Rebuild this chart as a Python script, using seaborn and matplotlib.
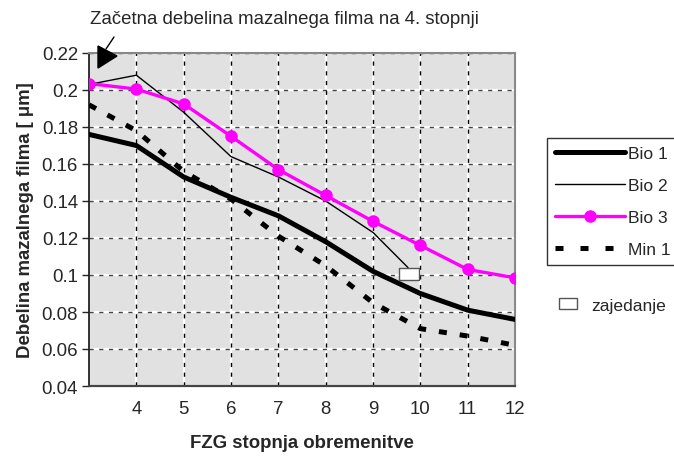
import matplotlib
matplotlib.use("Agg")
import matplotlib.pyplot as plt
import seaborn as sns
import numpy as np
import pandas as pd
from matplotlib.path import Path
from matplotlib.patches import Polygon, Rectangle
from matplotlib.lines import Line2D

# ---- data ----
stages = [3, 4, 5, 6, 7, 8, 9, 10, 11, 12]
bio1 = [0.176, 0.170, 0.153, 0.142, 0.132, 0.118, 0.102, 0.090, 0.081, 0.076]
bio2_x = [3, 4, 5, 6, 7, 8, 9, 9.74]
bio2 = [0.203, 0.208, 0.188, 0.164, 0.153, 0.140, 0.123, 0.104]
bio3 = [0.2035, 0.2005, 0.1925, 0.175, 0.157, 0.143, 0.129, 0.116, 0.103, 0.0985]
min1 = [0.192, 0.178, 0.156, 0.141, 0.121, 0.105, 0.085, 0.071, 0.067, 0.062]
zaj_x = [9.77]
zaj_y = [0.1008]
x_ticks = [4, 5, 6, 7, 8, 9, 10, 11, 12]
y_ticks = [0.04, 0.06, 0.08, 0.1, 0.12, 0.14, 0.16, 0.18, 0.2, 0.22]
y_labels = ["0.04", "0.06", "0.08", "0.1", "0.12", "0.14", "0.16", "0.18", "0.2", "0.22"]

sns.set_style("white")
plt.rcParams['font.family'] = ['Liberation Sans', 'DejaVu Sans']
FS = 13.4
LFS = 12.6

fig = plt.figure(figsize=(6.74, 4.60), dpi=100)
W, H = 674, 460
ax = fig.add_axes([89 / W, 1 - 387 / H, (515 - 89) / W, (387 - 54) / H])
ax.set_facecolor("#e1e1e1")

ax.set_xlim(3, 12)
ax.set_ylim(0.04, 0.22)
ax.set_xticks(x_ticks)
ax.set_yticks(y_ticks)
ax.set_yticklabels(y_labels)

# grid: white solid underneath, dark dashes on top
for xv in x_ticks:
    ax.axvline(xv, color="white", lw=1.6, zorder=0.5)
    ax.axvline(xv, color="black", lw=1.0, ls=(0, (3, 4)), zorder=0.6)
for yv in y_ticks:
    ax.axhline(yv, color="white", lw=1.6, zorder=0.5)
    ax.axhline(yv, color="#444444", lw=1.0, ls=(0, (3, 4)), zorder=0.6)

df1 = pd.DataFrame({"x": stages, "y": bio1})
df2 = pd.DataFrame({"x": bio2_x, "y": bio2})
df3 = pd.DataFrame({"x": stages, "y": bio3})
df4 = pd.DataFrame({"x": stages, "y": min1})

sns.lineplot(data=df4, x="x", y="y", ax=ax, color="black", lw=3.6,
             linestyle=(0, (1.6, 2.6)), zorder=3)
sns.lineplot(data=df1, x="x", y="y", ax=ax, color="black", lw=3.6, zorder=3)
sns.lineplot(data=df2, x="x", y="y", ax=ax, color="black", lw=1.0, zorder=3)
sns.lineplot(data=df3, x="x", y="y", ax=ax, color="#ff00ff", lw=2.4,
             marker="o", markersize=9, markeredgewidth=0, zorder=4)

rect_marker = Path([(-1, -0.62), (1, -0.62), (1, 0.62), (-1, 0.62), (-1, -0.62)],
                   [Path.MOVETO, Path.LINETO, Path.LINETO, Path.LINETO, Path.CLOSEPOLY])
ax.plot(zaj_x, zaj_y, ls="none", marker=rect_marker, markersize=14,
        markerfacecolor="white", markeredgecolor="#555555", markeredgewidth=1, zorder=5)

ax.set_xlabel("FZG stopnja obremenitve", fontsize=FS, fontweight="bold", labelpad=12)
ax.set_ylabel("Debelina mazalnega filma [ μm]", fontsize=FS, fontweight="bold", labelpad=5)
ax.tick_params(axis="x", length=0, pad=10, labelsize=FS)
ax.tick_params(axis="y", length=5, width=1, pad=3, labelsize=FS, direction="out", left=True)

for side in ["top", "right"]:
    ax.spines[side].set_color("#888888")
    ax.spines[side].set_linewidth(1.5)
ax.spines["left"].set_color("#222222")
ax.spines["left"].set_linewidth(1.3)
ax.spines["bottom"].set_color("#444444")
ax.spines["bottom"].set_linewidth(1.6)

# legend
handles = [
    Line2D([], [], color="black", lw=3.6),
    Line2D([], [], color="black", lw=1.0),
    Line2D([], [], color="#ff00ff", lw=2.4, marker="o", markersize=9, markeredgewidth=0),
    Line2D([], [], color="black", lw=3.6, linestyle=(0, (1.6, 3.4))),
]
leg = fig.legend(handles, ["Bio 1", "Bio 2", "Bio 3", "Min 1"], loc="upper left",
                 bbox_to_anchor=(547 / W, 1 - 139 / H), borderaxespad=0,
                 fontsize=LFS, frameon=True, fancybox=False, edgecolor="black",
                 handlelength=4.0, handletextpad=0.15, labelspacing=0.95,
                 borderpad=0.45, handleheight=0.7)
leg.get_frame().set_linewidth(1.0)

zh = [Rectangle((0, 0), 1, 1, facecolor="white", edgecolor="#555555", lw=1)]
fig.legend(zh, ["zajedanje"], loc="center left", bbox_to_anchor=(552 / W, 1 - 306 / H),
           borderaxespad=0, fontsize=LFS, frameon=False, handlelength=1.05,
           handleheight=0.65, handletextpad=0.8)

# annotation
fig.text(90 / W, 1 - 20 / H, "Začetna debelina mazalnega filma na 4. stopnji",
         fontsize=FS, ha="left", va="center")
tri = Polygon([(98 / W, 1 - 47 / H), (117 / W, 1 - 57 / H), (98 / W, 1 - 69 / H)],
              closed=True, transform=fig.transFigure, facecolor="black", edgecolor="black")
fig.patches.append(tri)
fig.lines.append(Line2D([106 / W, 114 / W], [1 - 50 / H, 1 - 38 / H],
                        transform=fig.transFigure, color="black", lw=1))

fig.savefig("out.png", dpi=100)
